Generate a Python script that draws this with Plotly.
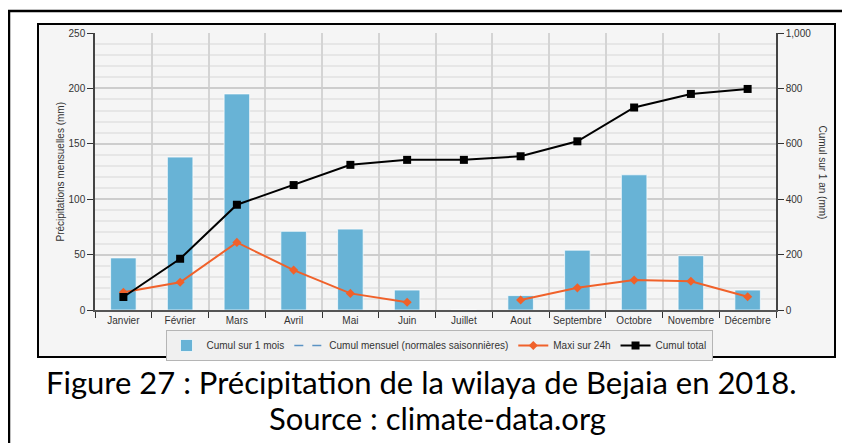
import plotly.graph_objects as go

# ---- data ----
months = ["Janvier", "Février", "Mars", "Avril", "Mai", "Juin", "Juillet",
          "Aout", "Septembre", "Octobre", "Novembre", "Décembre"]
cumul_mois = [47, 138, 195, 71, 73, 18, 0, 13, 54, 122, 49, 18]
maxi_24h = [16, 25, 61, 36, 15, 7, None, 9, 20, 27, 26, 12]
cumul_total = [47, 185, 380, 451, 524, 542, 542, 555, 609, 731, 780, 798]
normales = [None] * 12
left_ticks = [0, 50, 100, 150, 200, 250]
right_ticks = [0, 200, 400, 600, 800, 1000]

W, H = 850, 443
OFF = 8  # page body margin offset
L, R, T, B = 95 - OFF, 776 - OFF, 33 - OFF, 310 - OFF  # plot area pixel bounds


def px(x):
    return (x - OFF - L) / (R - L)


def py(y):
    return (B - (y - OFF)) / (B - T)


FONT = "Liberation Sans"
TXT = "#333333"

fig = go.Figure()
fig.add_trace(go.Bar(
    x=months, y=cumul_mois, name="Cumul sur 1 mois",
    marker=dict(color="#68b3d6", line=dict(color="rgba(255,255,255,0.7)", width=1)),
    width=0.45, yaxis="y"))
fig.add_trace(go.Scatter(
    x=months, y=normales, name="Cumul mensuel (normales saisonnières)",
    mode="lines", line=dict(color="#5b93c4", dash="dash", width=1.5), yaxis="y"))
fig.add_trace(go.Scatter(
    x=months, y=maxi_24h, name="Maxi sur 24h", mode="lines+markers",
    line=dict(color="#f0612a", width=2),
    marker=dict(symbol="diamond", size=7, color="#f0612a"), yaxis="y"))
fig.add_trace(go.Scatter(
    x=months, y=cumul_total, name="Cumul total", mode="lines+markers",
    line=dict(color="#000000", width=2),
    marker=dict(symbol="square", size=8, color="#000000"), yaxis="y2"))

shapes = [
    # outer figure frame
    dict(type="rect", xref="paper", yref="paper", x0=px(9), x1=px(870), y0=py(470), y1=py(11),
         line=dict(color="#000000", width=2.5), fillcolor="rgba(0,0,0,0)", layer="below"),
    # chart frame
    dict(type="rect", xref="paper", yref="paper", x0=px(38), x1=px(835), y0=py(357), y1=py(24),
         line=dict(color="#000000", width=2), fillcolor="#f5f5f5", layer="below"),
]

annotations = [
    dict(text="Précipitations mensuelles (mm)", xref="paper", yref="paper",
         x=px(52), y=py(172), textangle=-90, showarrow=False,
         font=dict(family=FONT, size=10, color=TXT)),
    dict(text="Cumul sur 1 an (mm)", xref="paper", yref="paper",
         x=px(830), y=py(172), textangle=90, showarrow=False,
         font=dict(family=FONT, size=10, color=TXT)),
    dict(text="Figure 27 : Précipitation de la wilaya de Bejaia en 2018.", xref="paper", yref="paper",
         x=px(421), y=py(403), showarrow=False,
         font=dict(family="Lato", size=31, color="#000000")),
    dict(text="Source : climate-data.org", xref="paper", yref="paper",
         x=px(437), y=py(439), showarrow=False,
         font=dict(family="Lato", size=31, color="#000000")),
]

fig.update_layout(
    width=W, height=H,
    margin=dict(l=L, r=W - R, t=T, b=H - B, pad=0, autoexpand=False),
    paper_bgcolor="#ffffff", plot_bgcolor="#ffffff",
    font=dict(family=FONT, size=10, color=TXT),
    bargap=0.55,
    showlegend=True,
    legend=dict(orientation="h", x=px(439), xanchor="center", y=py(330), yanchor="top",
                bgcolor="#f0f0f0", bordercolor="#b5b5b5", borderwidth=1,
                font=dict(family=FONT, size=10, color=TXT), itemwidth=30,
                tracegroupgap=0),
    xaxis=dict(type="category", tickson="boundaries", ticks="outside", ticklen=6,
               range=[-0.5, len(months) - 0.5],
               tickcolor="#333333", showgrid=True, gridcolor="#d4d4d4", gridwidth=1.5,
               showline=True, linecolor="#555555", linewidth=2, tickangle=0,
               automargin=False,
               tickfont=dict(family=FONT, size=10, color=TXT)),
    yaxis=dict(range=[0, 250], tickvals=left_ticks, ticks="outside", ticklen=6,
               tickcolor="#333333", showline=True, linecolor="#444444", linewidth=1.5,
               gridcolor="#cdcdcd", gridwidth=1.5, zeroline=False, automargin=False,
               minor=dict(dtick=10, showgrid=True, gridcolor="#e6e6e6", gridwidth=1.5),
               tickfont=dict(family=FONT, size=10, color=TXT)),
    yaxis2=dict(range=[0, 1000], tickvals=right_ticks, tickformat=",", overlaying="y",
                side="right", ticks="outside", ticklen=6, tickcolor="#333333",
                showline=True, linecolor="#444444", linewidth=1.5, showgrid=False,
                zeroline=False, automargin=False,
                tickfont=dict(family=FONT, size=10, color=TXT)),
    shapes=shapes,
    annotations=annotations,
)

fig.write_html("out.html")
